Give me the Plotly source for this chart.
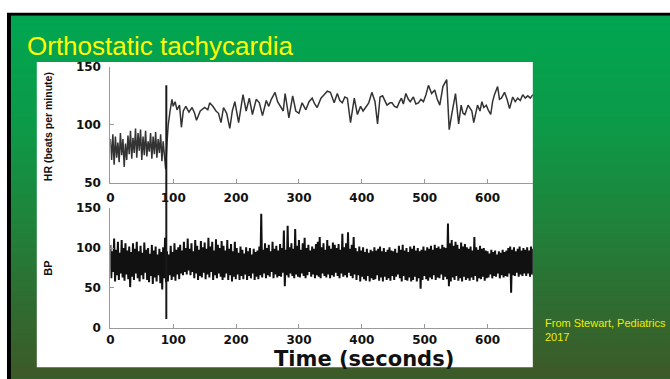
import plotly.graph_objects as go

W, H = 670, 379

# ---------------- data ----------------
x_ticks = [0, 100, 200, 300, 400, 500, 600]
hr_ticks = [50, 100, 150]
bp_ticks = [0, 50, 100, 150]

# Heart rate (beats per minute) vs time (s)
hr_time = list(range(0, 90, 2)) + [
    90, 92, 95, 98, 100, 103, 106, 110, 113, 116, 120, 125, 130, 134, 137, 143, 150, 155, 158, 163,
    168, 172, 176, 180, 185, 190, 194, 198, 204, 208, 211, 216, 221, 226, 232, 237, 242, 248, 252, 256,
    262, 266, 269, 275, 278, 284, 290, 295, 300, 305, 311, 316, 321, 325, 329, 335, 340, 345, 350, 356,
    361, 365, 369, 373, 377, 382, 388, 393, 398, 402, 406, 411, 416, 421, 425, 429, 433, 437, 440, 445,
    448, 452, 456, 460, 463, 466, 470, 474, 477, 482, 486, 490, 494, 498, 502, 506, 511, 516, 520, 524,
    529, 535, 539, 543, 549, 554, 558, 561, 564, 569, 575, 578, 584, 588, 591, 594, 598, 601, 605, 608,
    611, 616, 619, 622, 627, 631, 635, 640, 644, 648, 652, 656, 660, 664, 668, 672]
hr_bpm = [
    88, 70, 92, 66, 90, 72, 85, 68, 93, 74, 88, 64, 84, 70, 91, 75, 95, 71, 89, 76,
    97, 72, 93, 78, 96, 70, 90, 74, 95, 73, 86, 77, 93, 71, 90, 75, 94, 72, 88, 76,
    92, 69, 86, 73, 62,
    84, 100, 112, 122, 116, 120, 113, 117, 98, 112, 116, 111, 115, 110, 104, 112, 115, 113, 119, 116,
    112, 110, 102, 115, 110, 97, 112, 120, 102, 118, 126, 112, 123, 109, 122, 119, 108, 121, 116, 122,
    128, 120, 117, 112, 127, 106, 125, 112, 110, 119, 113, 120, 123, 118, 115, 123, 126, 129, 128, 119,
    127, 121, 119, 124, 123, 102, 123, 109, 116, 112, 115, 119, 128, 120, 101, 124, 125, 120, 117, 119,
    119, 116, 115, 120, 123, 118, 127, 122, 120, 124, 118, 119, 122, 120, 126, 134, 127, 130, 122, 117,
    133, 139, 96, 109, 127, 101, 117, 110, 109, 117, 112, 102, 117, 112, 120, 115, 117, 113, 109, 120,
    126, 133, 122, 123, 128, 122, 114, 124, 120, 123, 121, 126, 123, 125, 123, 126]

# Blood pressure: beat envelope sampled every 3 s (peak, then trough half a step later)
bp_time = list(range(0, 673, 3))
bp_sys = [
    104, 96, 112, 98, 108, 94, 110, 100, 106, 97,
    102, 95, 106, 99, 108, 96, 103, 94, 107, 98,
    100, 93, 104, 97, 102, 92, 99, 95, 101, 113,
    96, 92, 103, 95, 106, 98, 101, 104, 97, 108,
    100, 112, 99, 106, 96, 110, 103, 98, 109, 101,
    107, 99, 113, 102, 108, 97, 111, 104, 100, 109,
    103, 97, 110, 99, 105, 96, 108, 100, 94, 102,
    98, 93, 101, 96, 100, 92, 99, 95, 97, 102,
    143, 98, 106, 100, 104, 96, 108, 99, 103, 97,
    105, 100, 122, 98, 128, 101, 106, 99, 124, 103,
    110, 98, 106, 113, 100, 104, 97, 102, 99, 105,
    108, 114, 101, 106, 98, 110, 103, 99, 107, 104,
    100, 105, 98, 118, 101, 106, 120, 99, 104, 114,
    100, 96, 102, 97, 101, 95, 99, 94, 98, 96,
    101, 97, 99, 102, 96, 100, 95, 98, 101, 97,
    96, 99, 94, 103, 98, 104, 97, 100, 95, 102,
    99, 103, 97, 100, 96, 98, 102, 97, 101, 99,
    103, 98, 104, 100, 102, 99, 104, 101, 100, 131,
    106, 110, 103, 108, 104, 99, 107, 102, 105, 101,
    99, 102, 97, 114, 101, 98, 103, 99, 100, 97,
    96, 93, 98, 95, 97, 92, 96, 94, 98, 95,
    97, 100, 102, 98, 101, 96, 99, 102, 97, 100,
    98, 101, 97, 102, 99]
bp_dia = [
    62, 70, 58, 66, 60, 68, 63, 59, 67, 61,
    51, 64, 60, 68, 62, 58, 66, 61, 69, 60,
    57, 65, 55, 63, 58, 66, 56, 48, 62, 57,
    58, 66, 60, 64, 59, 67, 61, 68, 66, 70,
    67, 72, 66, 70, 62, 68, 60, 65, 63, 69,
    61, 67, 63, 70, 60, 66, 62, 68, 64, 60,
    63, 68, 60, 66, 58, 64, 61, 67, 60, 65,
    61, 67, 60, 65, 62, 68, 60, 64, 61, 66,
    63, 68, 62, 66, 64, 70, 62, 67, 63, 65,
    64, 69, 52, 66, 63, 68, 65, 62, 67, 64,
    63, 68, 65, 62, 66, 70, 64, 67, 62, 66,
    64, 62, 68, 65, 63, 67, 62, 66, 64, 69,
    65, 62, 68, 64, 66, 63, 69, 65, 62, 67,
    60, 66, 58, 64, 61, 59, 65, 58, 62, 60,
    61, 66, 59, 63, 58, 64, 60, 62, 59, 65,
    60, 64, 67, 62, 58, 65, 60, 59, 63, 58,
    60, 64, 58, 62, 49, 60, 65, 61, 59, 63,
    61, 66, 60, 63, 62, 67, 60, 64, 61, 52,
    58, 63, 60, 65, 59, 62, 58, 64, 60, 62,
    59, 63, 60, 65, 58, 62, 61, 64, 59, 62,
    63, 67, 62, 65, 64, 68, 62, 66, 63, 65,
    64, 68, 44, 66, 65, 69, 64, 67, 65, 68,
    65, 68, 64, 67, 66]

STAND_TIME = 89        # moment of standing (s)
STAND_HR_TOP = 134     # marker top, in HR units
STAND_BP_BOTTOM = 11   # marker bottom, in BP units

HR_RANGE = [50, 150]
BP_RANGE = [0, 150]
X_RANGE = [0, 672]

assert len(hr_time) == len(hr_bpm)
assert len(bp_time) == len(bp_sys) == len(bp_dia)

# ---------------- layout helpers ----------------
def px(x):
    return x / W

def py(y):
    return 1 - y / H

X_DOM = [px(107), px(532)]
HR_DOM = [py(183), py(62)]
BP_DOM = [py(333), py(209)]

bp_x, bp_y = [], []
for t, s, d in zip(bp_time, bp_sys, bp_dia):
    bp_x += [t, t + 1.5]
    bp_y += [s, d]

fig = go.Figure()
fig.add_trace(go.Scatter(x=hr_time, y=hr_bpm, mode="lines",
                         line=dict(color="#333333", width=1.5),
                         xaxis="x", yaxis="y", showlegend=False, hoverinfo="skip"))
fig.add_trace(go.Scatter(x=bp_x, y=bp_y, mode="lines",
                         line=dict(color="#111111", width=2),
                         xaxis="x2", yaxis="y2", showlegend=False, hoverinfo="skip"))

shapes = []
# slide gradient background
stops = [(0.0, (1, 166, 81)), (0.3, (12, 154, 72)), (0.55, (30, 133, 60)),
         (0.8, (47, 108, 49)), (1.0, (61, 90, 40))]

def grad(f):
    for (f0, c0), (f1, c1) in zip(stops[:-1], stops[1:]):
        if f0 <= f <= f1:
            u = (f - f0) / (f1 - f0)
            return "rgb(%d,%d,%d)" % tuple(round(a + (b - a) * u) for a, b in zip(c0, c1))
    return "rgb(%d,%d,%d)" % stops[-1][1]

# black slide frame (everything right of x=3, below y=6), then the green slide on top
shapes.append(dict(type="rect", xref="paper", yref="paper", layer="below",
                   x0=px(3), x1=1.02, y0=-0.02, y1=py(6), fillcolor="black", line=dict(width=0)))
shapes.append(dict(type="rect", xref="paper", yref="paper", layer="below",
                   x0=px(7), x1=1.02, y0=-0.02, y1=py(9), fillcolor="rgb(30,133,60)",
                   line=dict(width=0)))
top, bottom = 9, H + 6
n = 75
for i in range(n):
    y0 = top + (bottom - top) * i / n
    y1 = top + (bottom - top) * (i + 1) / n + 1.0
    shapes.append(dict(type="rect", xref="paper", yref="paper", layer="below",
                       x0=px(7), x1=1.02, y0=py(y1), y1=py(y0),
                       fillcolor=grad(i / (n - 1)), line=dict(width=0)))
# white figure panel
shapes.append(dict(type="rect", xref="paper", yref="paper", layer="below",
                   x0=px(33), x1=px(532), y0=py(374), y1=py(57),
                   fillcolor="white", line=dict(width=0)))

# standing marker spanning both panels (data -> paper through axis domains)
def hr_to_paper(v):
    return HR_DOM[0] + (v - HR_RANGE[0]) / (HR_RANGE[1] - HR_RANGE[0]) * (HR_DOM[1] - HR_DOM[0])

def bp_to_paper(v):
    return BP_DOM[0] + (v - BP_RANGE[0]) / (BP_RANGE[1] - BP_RANGE[0]) * (BP_DOM[1] - BP_DOM[0])

shapes.append(dict(type="line", xref="x", yref="paper", layer="above",
                   x0=STAND_TIME, x1=STAND_TIME,
                   y0=bp_to_paper(STAND_BP_BOTTOM), y1=hr_to_paper(STAND_HR_TOP),
                   line=dict(color="#1a1a1a", width=2)))

tickfont = dict(family="DejaVu Sans", size=12, weight="bold", color="#111")
axis_common = dict(showline=True, linecolor="#9a9a9a", linewidth=1, ticks="inside",
                   ticklen=4, tickcolor="#9a9a9a", showgrid=False, zeroline=False,
                   tickfont=tickfont, fixedrange=True)

annotations = [
    dict(text="Orthostatic tachycardia", xref="paper", yref="paper",
         x=px(21), y=py(41), xanchor="left", yanchor="middle", showarrow=False,
         font=dict(family="Liberation Sans", size=26, color="#FFFF00")),
    dict(text="HR (beats per minute)", xref="paper", yref="paper",
         x=px(45), y=py(124), xanchor="center", yanchor="middle", showarrow=False,
         textangle=-90, font=dict(family="Liberation Sans", size=10.5, weight="bold", color="#111")),
    dict(text="BP", xref="paper", yref="paper",
         x=px(44), y=py(271), xanchor="center", yanchor="middle", showarrow=False,
         textangle=-90, font=dict(family="Liberation Sans", size=11, weight="bold", color="#111")),
    dict(text="Time (seconds)", xref="paper", yref="paper",
         x=px(362), y=py(365), xanchor="center", yanchor="middle", showarrow=False,
         font=dict(family="DejaVu Sans", size=21, weight="bold", color="#111")),
    dict(text="From Stewart, Pediatrics<br>2017", xref="paper", yref="paper",
         x=px(542), y=py(335), xanchor="left", yanchor="middle", align="left", showarrow=False,
         font=dict(family="Liberation Sans", size=11, color="#EEEE00")),
]

fig.update_layout(
    width=W, height=H, margin=dict(l=0, r=0, t=0, b=0),
    paper_bgcolor="white", plot_bgcolor="rgba(0,0,0,0)",
    shapes=shapes, annotations=annotations, showlegend=False,
    xaxis=dict(domain=X_DOM, anchor="y", range=X_RANGE, tickvals=x_ticks, ticklabelstandoff=3,
               **axis_common),
    yaxis=dict(domain=HR_DOM, anchor="x", range=HR_RANGE, tickvals=hr_ticks, ticklabelstandoff=6,
               **axis_common),
    xaxis2=dict(domain=X_DOM, anchor="y2", range=X_RANGE, tickvals=x_ticks, ticklabelstandoff=1,
                **axis_common),
    yaxis2=dict(domain=BP_DOM, anchor="x2", range=BP_RANGE, tickvals=bp_ticks, ticklabelstandoff=6,
                **axis_common),
)

fig.write_html("out.html", config={"displayModeBar": False, "staticPlot": True},
               post_script="document.body.style.margin='0';")
